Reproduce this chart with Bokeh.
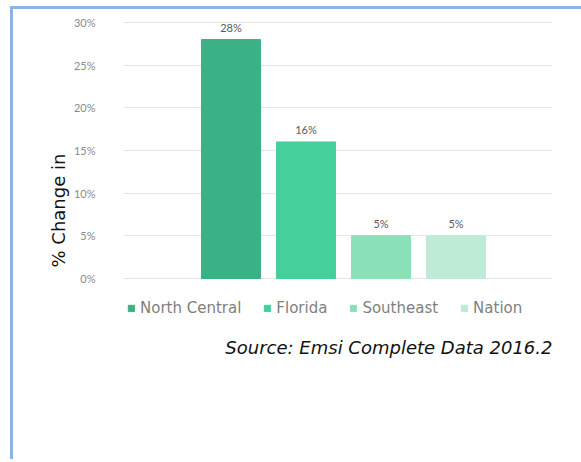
from bokeh.plotting import figure
from bokeh.models import ColumnDataSource, Range1d, FixedTicker, PrintfTickFormatter, Label, Legend, LegendItem, Title
from bokeh.embed import file_html
from bokeh.resources import INLINE

regions = ["North Central", "Florida", "Southeast", "Nation"]
pct_change = [28, 16, 5, 5]
colors = ["#3bb286", "#47cf9b", "#8ae0b7", "#bfead5"]
y_ticks = [0, 5, 10, 15, 20, 25, 30]

src = ColumnDataSource(dict(
    x=list(range(len(regions))),
    y=pct_change,
    region=regions,
    color=colors,
    label=[f"{v}%" for v in pct_change],
))

p = figure(width=571, height=453, output_backend="svg", toolbar_location=None,
           x_range=Range1d(-1.433, 4.287), y_range=Range1d(-21.56, 31.52),
           min_border_left=110, min_border_right=32, min_border_top=0, min_border_bottom=0,
           styles={"margin-left": "10px", "margin-top": "6px",
                   "border-left": "3px solid #8db3e2", "border-top": "3px solid #8db3e2"})
p.outline_line_color = None
p.xaxis.visible = False
p.xgrid.visible = False
p.ygrid.grid_line_color = "#e4e4e4"
p.ygrid.grid_line_width = 1
p.yaxis.ticker = FixedTicker(ticks=y_ticks)
p.yaxis.formatter = PrintfTickFormatter(format="%d%%")
p.yaxis.axis_line_color = None
p.yaxis.major_tick_line_color = None
p.yaxis.minor_tick_line_color = None
p.yaxis.major_label_standoff = 22
p.yaxis.major_label_text_color = "#8a8a8a"
p.yaxis.major_label_text_font = "Lato"
p.yaxis.major_label_text_font_size = "11px"

r = p.vbar(x="x", top="y", width=0.787, bottom=0, source=src, fill_color="color", line_color="color")
p.text(x="x", y="y", text="label", source=src, y_offset=-6, text_align="center", text_baseline="bottom",
       text_font_size="11px", text_color="#595959", text_font={"value": "Lato"})

legend = Legend(items=[LegendItem(label=name, renderers=[r], index=i) for i, name in enumerate(regions)],
                orientation="horizontal", location=(4, 145), glyph_width=8, glyph_height=8,
                label_standoff=5, spacing=22, padding=0, margin=0, border_line_color=None,
                background_fill_alpha=0, label_text_font="DejaVu Sans", label_text_font_size="15px",
                label_text_color="#7f7f7f", label_height=16)
p.add_layout(legend, "center")

p.add_layout(Label(x=429, y=115, x_units="screen", y_units="screen", text="Source: Emsi Complete Data 2016.2",
                   text_align="right", text_baseline="alphabetic", text_font="DejaVu Sans",
                   text_font_style="italic", text_font_size="18px", text_color="#111111"))

p.add_layout(Title(text="% Change in", align="left", offset=195, text_font="DejaVu Sans",
                   text_font_size="18px", text_font_style="normal", text_color="#111111", standoff=3), "left")

open("out.html", "w").write(file_html(p, INLINE))
